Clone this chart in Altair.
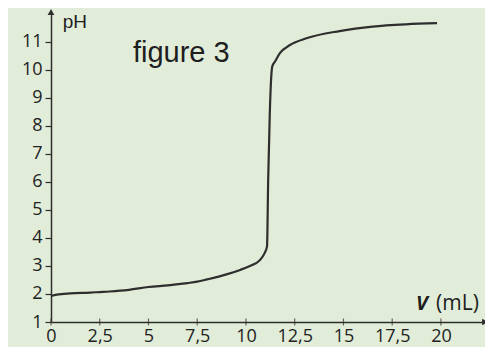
import altair as alt
import pandas as pd

# Titration curve
volume = [0, 0.3, 1, 2, 2.5, 3, 4, 5, 6, 7, 7.5, 8, 9, 9.7, 10.2, 10.7, 10.95, 11.08,
          11.14, 11.22, 11.3, 11.35, 11.49, 11.74, 12.26, 13.1, 14.8, 16.5, 18.2, 19.8]
ph = [1.93, 1.98, 2.02, 2.05, 2.07, 2.09, 2.15, 2.25, 2.31, 2.39, 2.44, 2.52, 2.7, 2.86,
      3.0, 3.2, 3.45, 3.7, 6.1, 8.4, 9.8, 10.13, 10.3, 10.6, 10.89, 11.13, 11.39, 11.55,
      11.63, 11.67]

x_ticks = [0, 2.5, 5, 7.5, 10, 12.5, 15, 17.5, 20]
y_ticks = [1, 2, 3, 4, 5, 6, 7, 8, 9, 10, 11]

x_max = 22.26
y_min, y_max = 1, 12.07

bg = "#e1edd9"
ink = "#2e2e2e"

curve = pd.DataFrame({"V": volume, "pH": ph})

xs = alt.Scale(domain=[0, x_max], nice=False, zero=False)
ys = alt.Scale(domain=[y_min, y_max], nice=False, zero=False)

x_axis = alt.Axis(values=x_ticks,
                  labelExpr="replace(format(datum.value, '~g'), '.', ',')",
                  title=None, grid=False, domain=True, domainColor=ink, domainWidth=1.5,
                  ticks=False, labelPadding=5, labelFont="Open Sans", labelFontSize=18,
                  labelColor="#222", labelFlush=False, labelOverlap=False)
y_axis = alt.Axis(values=y_ticks, format="d", title=None, grid=False, domain=True,
                  domainColor=ink, domainWidth=1.5, ticks=True, tickColor=ink,
                  tickSize=6, tickWidth=1.2, labelPadding=3, labelFont="Open Sans",
                  labelFontSize=18, labelColor="#222", labelOverlap=False,
                  labelSeparation=0, labelBound=False)


def X():
    return alt.X("V:Q", scale=xs, axis=x_axis)


def Y():
    return alt.Y("pH:Q", scale=ys, axis=y_axis)


line = alt.Chart(curve).mark_line(color=ink, strokeWidth=2.2, interpolate="monotone").encode(
    x=X(), y=Y())

xt = alt.Chart(pd.DataFrame({"V": x_ticks, "pH": [1] * len(x_ticks)})).mark_tick(
    color=ink, thickness=1.2, size=7, orient="vertical").encode(x=X(), y=Y())

arrows = alt.Chart(pd.DataFrame({
    "V": [x_max, 0], "pH": [1, y_max], "shape": ["triangle-right", "triangle-up"]
})).mark_point(filled=True, color=ink, size=45, opacity=1).encode(
    x=X(), y=Y(), shape=alt.Shape("shape:N", scale=None))

texts = pd.DataFrame({
    "V": [4.2, 0.6, 18.72, 19.75],
    "pH": [10.29, 11.5, 1.43, 1.43],
    "t": ["figure 3", "pH", "V", "(mL)"],
    "size": [29, 19, 20, 21],
    "style": ["normal", "normal", "italic", "normal"],
    "weight": ["normal", "normal", "bold", "normal"],
    "font": ["Liberation Sans", "Liberation Sans", "Open Sans", "Open Sans"],
})


def label(row):
    return alt.Chart(texts.iloc[[row]]).mark_text(
        align="left", baseline="alphabetic", color="#1e1e1e",
        fontSize=int(texts["size"][row]), fontStyle=texts["style"][row],
        fontWeight=texts["weight"][row], font=texts["font"][row]).encode(
        x=X(), y=Y(), text="t:N")


chart = alt.layer(line, xt, arrows, *[label(i) for i in range(len(texts))]).properties(
    width=434, height=310,
    autosize=alt.AutoSizeParams(type="none"),
    padding={"left": 43, "top": 4, "right": 0, "bottom": 25},
    background=bg,
).configure_view(stroke=None, fill=bg).configure_axis(labelOverlap=False)

chart.save("out.html", embed_options={"renderer": "svg", "actions": False})
